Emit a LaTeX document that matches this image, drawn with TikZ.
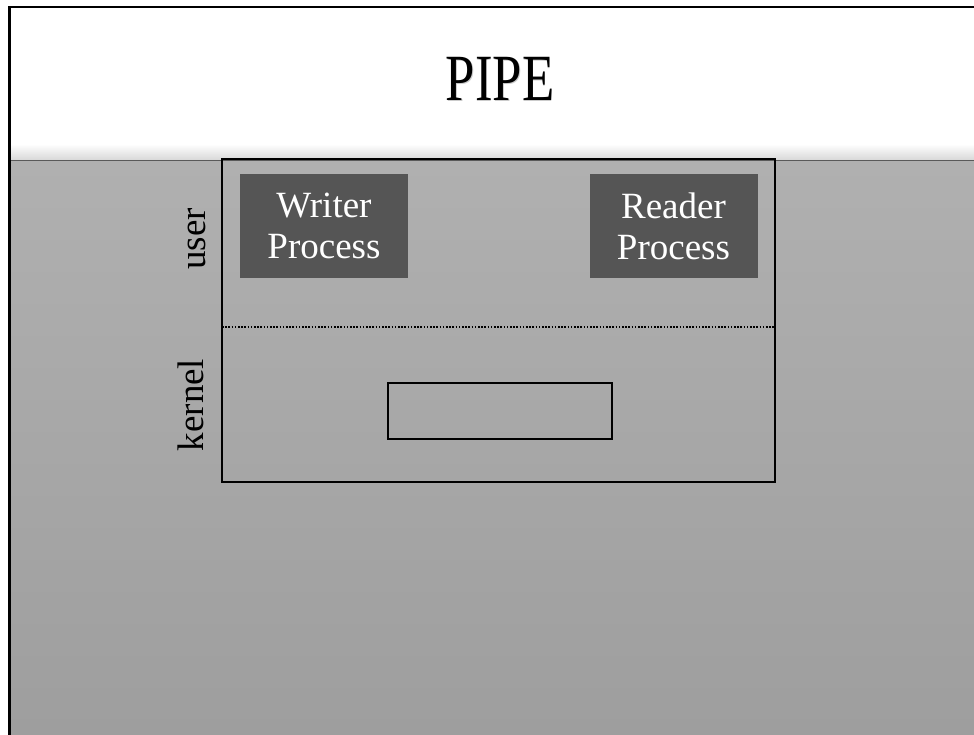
\documentclass[tikz,border=0pt]{standalone}
\usepackage{fontspec}
\setmainfont{Liberation Serif}
\definecolor{procfill}{HTML}{555555}
\definecolor{bgtop}{HTML}{B0B0B0}
\definecolor{bgbottom}{HTML}{9E9E9E}
\definecolor{edgeline}{HTML}{5A5A5A}
\begin{document}
\begin{tikzpicture}[x=1pt,y=-1pt,
  every node/.style={inner sep=0pt, outer sep=0pt},
  bodyfont/.style={font=\fontsize{37}{41}\selectfont},
  procbox/.style={bodyfont, fill=procfill, text=white, align=center,
    minimum width=168pt, minimum height=104pt},
  layerlabel/.style={bodyfont, rotate=90, anchor=base},
  framebox/.style={draw=black, line width=2pt},
  bufferbox/.style={draw=black, line width=2pt, minimum width=224pt, minimum height=56pt},
  sepline/.style={draw=black, line width=1.8pt, dash pattern=on 1.6pt off 1.6pt}]

\useasboundingbox (0,0) rectangle (974,735);

% slide background: white title band over a grey body
\fill[white] (0,0) rectangle (974,735);
\shade[top color=bgtop, bottom color=bgbottom] (10,160) rectangle (974,735);
\shade[top color=white, bottom color=gray!30] (10,144) rectangle (974,159.6);
\draw[edgeline, line width=0.8pt] (10,160) -- (974,160);

% slide border (top and left)
\draw[black, line width=3pt] (9.5,735) -- (9.5,7);
\draw[black, line width=2pt] (8,7) -- (974,7);

% title with a soft drop shadow
\node[anchor=base, font=\fontsize{66}{72}\selectfont, text=black!40, opacity=0.5]
  (titleshadow) at (500.8,102) {\scalebox{0.8}[1]{PIPE}};
\node[anchor=base, font=\fontsize{66}{72}\selectfont] (title) at (500,101)
  {\scalebox{0.8}[1]{PIPE}};

% user / kernel frame
\node[framebox, minimum width=553pt, minimum height=322.5pt] (frame) at (498.5,320.5) {};
\coordinate (sepL) at (222,327);
\coordinate (sepR) at (775,327);
\draw[sepline] (sepL) -- (sepR);

% processes in user space
\node[procbox] (writer) at (324,226) {Writer\\Process};
\node[procbox] (reader) at (673.5,226) {Reader\\Process};

% pipe buffer in the kernel
\node[bufferbox] (buffer) at (500,411) {};

% layer labels
\node[layerlabel] (userlabel) at (205,239) {user};
\node[layerlabel] (kernellabel) at (203.5,405) {kernel};
\end{tikzpicture}
\end{document}
